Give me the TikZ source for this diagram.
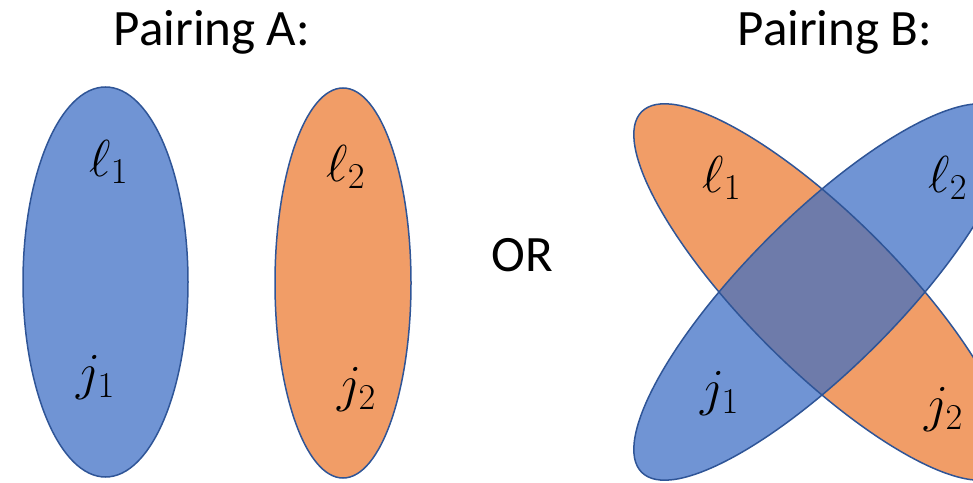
\RequirePackage{fix-cm}
\documentclass[tikz,border=0pt]{standalone}
\usepackage{fontspec}
\setmainfont{Carlito}
\usepackage{tikz}
\usetikzlibrary{positioning}

\definecolor{myblue}{RGB}{112,148,212}
\definecolor{myorange}{RGB}{241,157,103}
\definecolor{myover}{RGB}{110,123,170}
\definecolor{myline}{RGB}{47,85,151}

\begin{document}
\begin{tikzpicture}[
    x=0.5pt, y=0.5pt,
    myedge/.style={draw=myline, line width=0.75pt},
    mylabel/.style={inner sep=0pt, font=\fontsize{26}{30}\selectfont},
    mytitle/.style={anchor=base, inner sep=0pt, font=\fontsize{25.5}{30}\selectfont}
]
\useasboundingbox (0,0) rectangle (973,482);
\clip (0,0) rectangle (973,482);

% Pairing A: two separate ellipses
\filldraw[myedge, fill=myblue] (105.5,200) ellipse [x radius=82.5, y radius=195];
\filldraw[myedge, fill=myorange] (343,199) ellipse [x radius=68, y radius=195];

% Pairing B: two crossing ellipses
\coordinate (C) at (822,190);
\fill[myorange, rotate around={-45:(C)}] (C) ellipse [x radius=255, y radius=76];
\fill[myblue, rotate around={45:(C)}] (C) ellipse [x radius=255, y radius=76];
\begin{scope}
    \clip[rotate around={-45:(C)}] (C) ellipse [x radius=255, y radius=76];
    \fill[myover, rotate around={45:(C)}] (C) ellipse [x radius=255, y radius=76];
\end{scope}
\draw[myedge, rotate around={-45:(C)}] (C) ellipse [x radius=255, y radius=76];
\draw[myedge, rotate around={45:(C)}] (C) ellipse [x radius=255, y radius=76];

% titles
\node[mytitle] (tA) at (212,436) {Pairing A:};
\node[mytitle] (tB) at (835,436) {Pairing B:};
\node[mytitle] (or) at (522,210) {OR};

% labels
\node[mylabel] (l1a) at (109,320) {$\ell_1$};
\node[mylabel] (j1a) at (96,104) {$j_1$};
\node[mylabel] (l2a) at (346,315) {$\ell_2$};
\node[mylabel] (j2a) at (357,92) {$j_2$};
\node[mylabel] (l1b) at (722,304) {$\ell_1$};
\node[mylabel] (l2b) at (948,304) {$\ell_2$};
\node[mylabel] (j1b) at (720,88) {$j_1$};
\node[mylabel] (j2b) at (944,72) {$j_2$};
\end{tikzpicture}
\end{document}
